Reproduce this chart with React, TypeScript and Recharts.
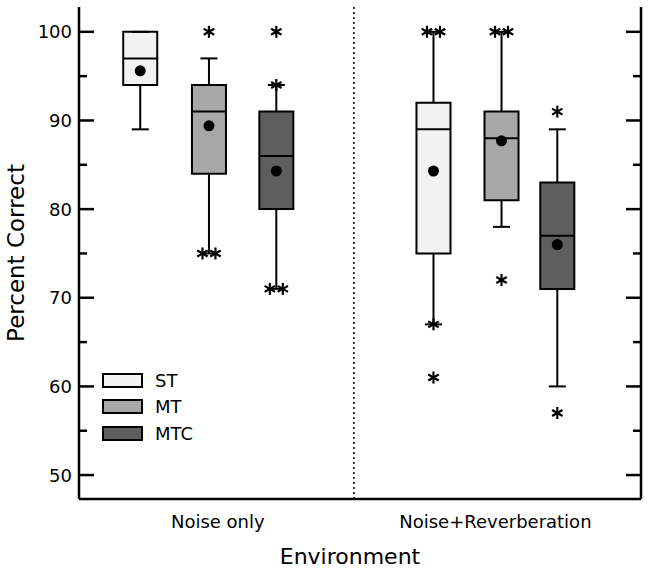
import {
  ComposedChart,
  Legend,
  ReferenceArea,
  ReferenceLine,
  Scatter,
  XAxis,
  YAxis,
} from "recharts";

const environments = ["Noise only", "Noise+Reverberation"];
const environmentTicks = [2.04, 6.12];
const conditions = ["ST", "MT", "MTC"];
const conditionFills = ["#f2f2f2", "#a8a8a8", "#5e5e5e"];

// boxes: Noise only ST/MT/MTC, then Noise+Reverberation ST/MT/MTC
const boxPos = [0.9, 1.91, 2.9, 5.21, 6.21, 7.03];
const boxCondition = [0, 1, 2, 0, 1, 2];
const q1 = [94, 84, 80, 75, 81, 71];
const median = [97, 91, 86, 89, 88, 77];
const q3 = [100, 94, 91, 92, 91, 83];
const whiskerLow = [89, 75, 71, 67, 78, 60];
const whiskerHigh = [100, 97, 94, 100, 100, 89];
const means = [95.6, 89.4, 84.3, 84.3, 87.7, 76.0];

// outliers: which box, value, how many stars side by side
const outlierBox = [1, 1, 2, 2, 2, 3, 3, 3, 4, 4, 5, 5];
const outlierValue = [100, 75, 100, 94, 71, 100, 67, 61, 100, 72, 91, 57];
const outlierCount = [1, 2, 1, 1, 2, 2, 1, 1, 2, 1, 1, 1];

const yTicks = [50, 55, 60, 65, 70, 75, 80, 85, 90, 95, 100];
const dividerPos = 4.04;
const BOX_HALF = 0.25;
const CAP_HALF = 0.125;

const meanData = boxPos.map((x, i) => ({ x, y: means[i] }));
const outlierData = outlierBox.map((b, i) => ({
  x: boxPos[b],
  y: outlierValue[i],
  count: outlierCount[i],
}));

const LeftTick = (props: any) => {
  const { x, y, payload } = props;
  const major = payload.value % 10 === 0;
  return (
    <g>
      <line x1={x} x2={x + (major ? 15 : 8)} y1={y} y2={y} stroke="#000" strokeWidth={2.5} />
      {major && (
        <text x={x - 7} y={y} textAnchor="end" dominantBaseline="central" fontSize={18} fill="#000">
          {payload.value}
        </text>
      )}
    </g>
  );
};

const RightTick = (props: any) => {
  const { x, y, payload } = props;
  const major = payload.value % 10 === 0;
  return <line x1={x} x2={x - (major ? 15 : 8)} y1={y} y2={y} stroke="#000" strokeWidth={2.5} />;
};

const BottomTick = (props: any) => {
  const { x, y, index } = props;
  return (
    <text x={x} y={y + 29} textAnchor="middle" fontSize={18} fill="#000">
      {environments[index]}
    </text>
  );
};

const Asterisk = (props: any) => {
  const { cx, cy, payload } = props;
  const offsets = payload.count === 2 ? [-6.5, 6.5] : [0];
  const r = 6;
  return (
    <g stroke="#000" strokeWidth={2.2}>
      {offsets.map((o) => (
        <g key={o}>
          <line x1={cx + o} x2={cx + o} y1={cy - r} y2={cy + r} />
          <line x1={cx + o - r * 0.87} x2={cx + o + r * 0.87} y1={cy - r * 0.5} y2={cy + r * 0.5} />
          <line x1={cx + o - r * 0.87} x2={cx + o + r * 0.87} y1={cy + r * 0.5} y2={cy - r * 0.5} />
        </g>
      ))}
    </g>
  );
};

export default function App() {
  return (
    <div style={{ position: "absolute", left: 0, top: 0, fontFamily: "DejaVu Sans" }}>
      <ComposedChart width={649} height={571} margin={{ top: 7, right: 0, bottom: 0, left: 0 }}>
        <XAxis
          type="number"
          dataKey="x"
          domain={[0, 8.26]}
          allowDataOverflow
          ticks={environmentTicks}
          tick={<BottomTick />}
          tickSize={0}
          tickMargin={0}
          height={72}
          axisLine={{ stroke: "#000", strokeWidth: 2.5 }}
          label={(p: any) => {
            const vb = p.viewBox;
            return (
              <text x={vb.x + vb.width / 2 - 10} y={564} textAnchor="middle" fontSize={22} fill="#000">
                Environment
              </text>
            );
          }}
        />
        <XAxis
          xAxisId="top"
          orientation="top"
          type="number"
          domain={[0, 8.26]}
          height={0}
          tick={false}
          tickLine={false}
          axisLine={{ stroke: "#000", strokeWidth: 2.5 }}
        />
        <YAxis
          type="number"
          domain={[47.3, 102.8]}
          allowDataOverflow
          ticks={yTicks}
          width={79}
          tickSize={0}
          tickMargin={0}
          tick={<LeftTick />}
          axisLine={{ stroke: "#000", strokeWidth: 2.5 }}
          label={(p: any) => {
            const vb = p.viewBox;
            const cy = vb.y + vb.height / 2;
            return (
              <text
                x={16}
                y={cy}
                transform={`rotate(-90 16 ${cy})`}
                textAnchor="middle"
                dominantBaseline="central"
                fontSize={23}
                fill="#000"
              >
                Percent Correct
              </text>
            );
          }}
        />
        <YAxis
          yAxisId="r"
          orientation="right"
          type="number"
          domain={[47.3, 102.8]}
          allowDataOverflow
          ticks={yTicks}
          width={8}
          tickSize={0}
          tickMargin={0}
          tick={<RightTick />}
          axisLine={{ stroke: "#000", strokeWidth: 2.5 }}
        />

        <ReferenceLine x={dividerPos} stroke="#000" strokeWidth={1.5} strokeDasharray="2 3" />

        {boxPos.map((x, i) => (
          <ReferenceLine
            key={`wh${i}`}
            segment={[{ x, y: q3[i] }, { x, y: whiskerHigh[i] }]}
            stroke="#000"
            strokeWidth={2}
          />
        ))}
        {boxPos.map((x, i) => (
          <ReferenceLine
            key={`wl${i}`}
            segment={[{ x, y: q1[i] }, { x, y: whiskerLow[i] }]}
            stroke="#000"
            strokeWidth={2}
          />
        ))}
        {boxPos.map((x, i) => (
          <ReferenceLine
            key={`ch${i}`}
            segment={[{ x: x - CAP_HALF, y: whiskerHigh[i] }, { x: x + CAP_HALF, y: whiskerHigh[i] }]}
            stroke="#000"
            strokeWidth={2}
          />
        ))}
        {boxPos.map((x, i) => (
          <ReferenceLine
            key={`cl${i}`}
            segment={[{ x: x - CAP_HALF, y: whiskerLow[i] }, { x: x + CAP_HALF, y: whiskerLow[i] }]}
            stroke="#000"
            strokeWidth={2}
          />
        ))}
        {boxPos.map((x, i) => (
          <ReferenceArea
            key={`b${i}`}
            x1={x - BOX_HALF}
            x2={x + BOX_HALF}
            y1={q1[i]}
            y2={q3[i]}
            fill={conditionFills[boxCondition[i]]}
            fillOpacity={1}
            stroke="#000"
            strokeWidth={2}
          />
        ))}
        {boxPos.map((x, i) => (
          <ReferenceLine
            key={`m${i}`}
            segment={[{ x: x - BOX_HALF, y: median[i] }, { x: x + BOX_HALF, y: median[i] }]}
            stroke="#000"
            strokeWidth={2}
          />
        ))}

        <Scatter
          data={meanData}
          dataKey="y"
          isAnimationActive={false}
          shape={(p: any) => <circle cx={p.cx} cy={p.cy} r={5.5} fill="#000" />}
        />
        <Scatter data={outlierData} dataKey="y" isAnimationActive={false} shape={<Asterisk />} />

        <Legend
          layout="horizontal"
          verticalAlign="middle"
          align="center"
          wrapperStyle={{ left: 102, top: 367, width: 120 }}
          content={() => (
            <div>
              {conditions.map((c, i) => (
                <div key={c} style={{ display: "flex", alignItems: "center", height: 26.5 }}>
                  <div
                    style={{
                      width: 41,
                      height: 15,
                      boxSizing: "border-box",
                      border: "2px solid #000",
                      background: conditionFills[i],
                    }}
                  />
                  <span style={{ marginLeft: 12, fontSize: 18, color: "#000" }}>{c}</span>
                </div>
              ))}
            </div>
          )}
        />
      </ComposedChart>
    </div>
  );
}
